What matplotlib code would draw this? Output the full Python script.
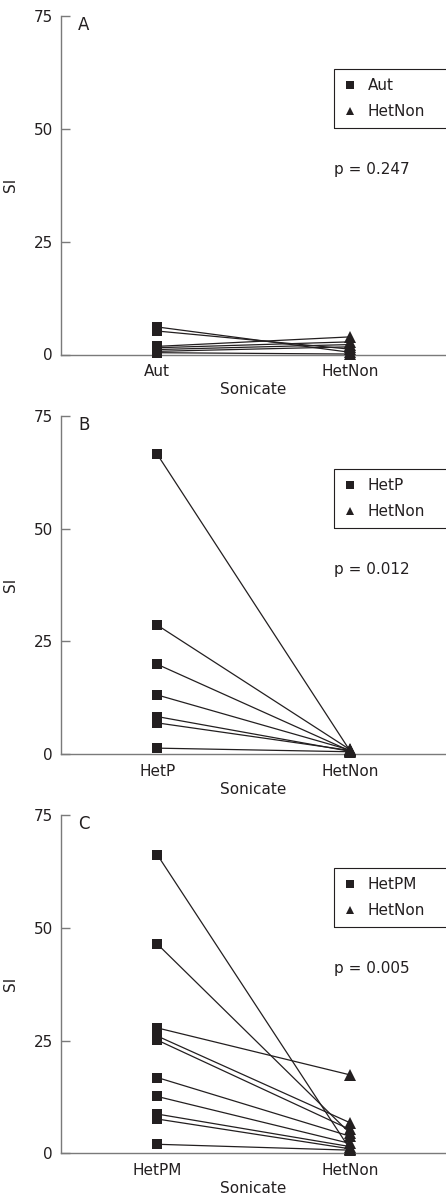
import matplotlib
matplotlib.use("Agg")
import matplotlib.pyplot as plt
from matplotlib.patches import Rectangle

# ---- data ----
categories_a = ["Aut", "HetNon"]
aut_si = [6.1, 5.2, 1.8, 1.5, 1.1, 0.7, 0.4]
hetnon_a = [0.5, 1.2, 3.9, 2.8, 2.2, 1.7, 0.1]
p_a = "p = 0.247"

categories_b = ["HetP", "HetNon"]
hetp_si = [66.5, 28.6, 19.9, 13.1, 8.3, 6.9, 1.3]
hetnon_b = [0.8, 1.0, 0.7, 0.9, 0.6, 0.8, 0.5]
p_b = "p = 0.012"

categories_c = ["HetPM", "HetNon"]
hetpm_si = [66.2, 46.4, 27.8, 26.0, 25.1, 16.8, 12.6, 8.7, 7.6, 2.0]
hetnon_c = [1.0, 4.5, 17.4, 6.8, 5.3, 3.8, 2.2, 1.5, 1.0, 0.7]
p_c = "p = 0.005"

panel_letters = ["A", "B", "C"]
yticks = [0, 25, 50, 75]

plt.rcParams['font.family'] = ['DejaVu Sans']
INK = '#231f20'
GRAY = '#7a7a7a'

fig = plt.figure(figsize=(4.46, 11.99), dpi=100)
W, H = 446.0, 1199.0
left_px = 61.0
panel_px = [(16.0, 354.5), (416.0, 754.0), (815.0, 1153.3)]

panels = [
    (categories_a, aut_si, hetnon_a, p_a),
    (categories_b, hetp_si, hetnon_b, p_b),
    (categories_c, hetpm_si, hetnon_c, p_c),
]

for (top, bot), letter, (cats, first, second, ptxt) in zip(panel_px, panel_letters, panels):
    ax = fig.add_axes([left_px / W, 1 - bot / H, 1 - left_px / W, (bot - top) / H])
    for a, b in zip(first, second):
        ax.plot([0, 1], [a, b], color=INK, lw=0.9, zorder=2, clip_on=False)
    ax.plot([0] * len(first), first, 's', color=INK, ms=7.5, mew=0, zorder=3,
            clip_on=False, label=cats[0])
    ax.plot([1] * len(second), second, '^', color=INK, ms=8, mew=0, zorder=3,
            clip_on=False, label=cats[1])
    ax.set_xlim(-0.5, 1.5)
    ax.set_ylim(0, 75)
    ax.set_yticks(yticks)
    ax.set_xticks([0, 1])
    ax.set_xticklabels(cats)
    for s in ['top', 'right']:
        ax.spines[s].set_visible(False)
    for s in ['left', 'bottom']:
        ax.spines[s].set_color(GRAY)
        ax.spines[s].set_linewidth(1.0)
    ax.tick_params(axis='y', direction='in', length=6.5, width=1.0, color=GRAY,
                   labelsize=11, pad=6, labelcolor=INK)
    ax.tick_params(axis='x', length=0, labelsize=11, pad=7, labelcolor=INK)
    ax.set_xlabel("Sonicate", fontsize=11, labelpad=2, color=INK)
    ax.set_ylabel("SI", fontsize=11, color=INK)
    ax.yaxis.set_label_coords(-0.112, 0.5)
    ax.text(0.044, 0.974, letter, transform=ax.transAxes, fontsize=12,
            ha='left', va='center', color=INK)
    ax.text(0.709, 40.9 / 75, ptxt, transform=ax.transAxes, fontsize=11,
            ha='left', va='center', color=INK)
    leg = ax.legend(loc='upper left', bbox_to_anchor=(0.709, 63.3 / 75),
                    borderaxespad=0, borderpad=0.6, handlelength=0.9,
                    handletextpad=0.7, labelspacing=0.75, fontsize=11,
                    markerscale=0.8, frameon=False)
    for t in leg.get_texts():
        t.set_color(INK)
    ax.add_patch(Rectangle((0.709, 50.2 / 75), 0.32, (63.3 - 50.2) / 75,
                           transform=ax.transAxes, fill=False, edgecolor=INK,
                           lw=0.8, clip_on=False, zorder=4))

fig.savefig("out.png", dpi=100)
